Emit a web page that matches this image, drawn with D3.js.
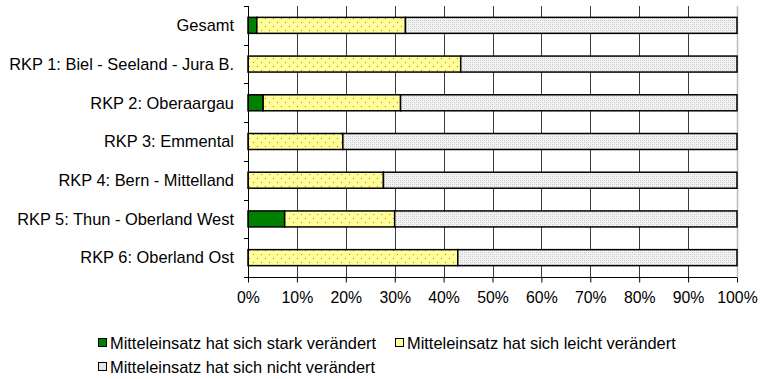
<!DOCTYPE html>
<html>
<head>
<meta charset="utf-8">
<script src="https://cdn.jsdelivr.net/npm/d3@7"></script>
<style>
  html, body { margin: 0; padding: 0; background: #ffffff; }
  svg { display: block; }
  text { font-family: "Liberation Sans", Arial, sans-serif; fill: #000; }
</style>
</head>
<body>
<svg id="chart" width="760" height="379"></svg>
<script>
// Regions (top to bottom)
const categories = [
  "Gesamt",
  "RKP 1: Biel - Seeland - Jura B.",
  "RKP 2: Oberaargau",
  "RKP 3: Emmental",
  "RKP 4: Bern - Mittelland",
  "RKP 5: Thun - Oberland West",
  "RKP 6: Oberland Ost"
];

// Share of answers in percent
const stark  = [1.8, 0.0, 3.1, 0.0, 0.0, 7.5, 0.0];
const leicht = [30.4, 43.5, 28.1, 19.4, 27.7, 22.5, 42.9];
const nicht  = [67.8, 56.5, 68.8, 80.6, 72.3, 70.0, 57.1];

const seriesNames = [
  "Mitteleinsatz hat sich stark verändert",
  "Mitteleinsatz hat sich leicht verändert",
  "Mitteleinsatz hat sich nicht verändert"
];
const xTicks = [0, 10, 20, 30, 40, 50, 60, 70, 80, 90, 100];

const svg = d3.select("#chart");
const plotLeft = 248, plotRight = 737, plotTop = 6, plotBottom = 277;

// Fill patterns
const defs = svg.append("defs");
const dots = defs.append("pattern").attr("id", "pYellow")
  .attr("patternUnits", "userSpaceOnUse").attr("width", 8).attr("height", 8);
dots.append("rect").attr("width", 8).attr("height", 8).attr("fill", "#ffff99");
dots.append("rect").attr("x", 1).attr("y", 2).attr("width", 1).attr("height", 1).attr("fill", "#d4702a");
dots.append("rect").attr("x", 5).attr("y", 6).attr("width", 1).attr("height", 1).attr("fill", "#d4702a");

const grey = defs.append("pattern").attr("id", "pGrey")
  .attr("patternUnits", "userSpaceOnUse").attr("width", 4).attr("height", 4);
grey.append("rect").attr("width", 4).attr("height", 4).attr("fill", "#f2f2f2");
grey.append("rect").attr("x", 0).attr("y", 0).attr("width", 1).attr("height", 1).attr("fill", "#c8c8c8");
grey.append("rect").attr("x", 2).attr("y", 2).attr("width", 1).attr("height", 1).attr("fill", "#c8c8c8");
grey.append("rect").attr("x", 2).attr("y", 0).attr("width", 1).attr("height", 1).attr("fill", "#dcdcdc");
grey.append("rect").attr("x", 0).attr("y", 2).attr("width", 1).attr("height", 1).attr("fill", "#dcdcdc");

const fills = ["#008000", "url(#pYellow)", "url(#pGrey)"];
const legendFills = ["#008000", "#ffff99", "#e6e6e6"];

// Scales
const x = d3.scaleLinear().domain([0, 100]).range([plotLeft, plotRight]);
const pad = 0.587;
const y = d3.scaleBand().domain(categories).range([plotTop, plotBottom])
  .paddingInner(pad).paddingOuter(pad / 2);

// Gridlines
svg.append("g").selectAll("line")
  .data(xTicks.filter(d => d > 0 && d < 100))
  .join("line")
  .attr("x1", d => Math.round(x(d)) + 0.5).attr("x2", d => Math.round(x(d)) + 0.5)
  .attr("y1", plotTop).attr("y2", plotBottom)
  .attr("stroke", "#3a3a3a").attr("stroke-width", 1);
svg.append("line")
  .attr("x1", x(100) + 0.5).attr("x2", x(100) + 0.5)
  .attr("y1", plotTop).attr("y2", plotBottom)
  .attr("stroke", "#bdbdbd").attr("stroke-width", 1.5);

// Stacked bars
const stackData = categories.map((c, i) => ({ cat: c, stark: stark[i], leicht: leicht[i], nicht: nicht[i] }));
const stacked = d3.stack().keys(["stark", "leicht", "nicht"])(stackData);

svg.append("g").selectAll("g")
  .data(stacked)
  .join("g")
  .attr("fill", (d, i) => fills[i])
  .selectAll("rect")
  .data(d => d.filter(v => v[1] - v[0] > 0))
  .join("rect")
  .attr("x", d => x(d[0]))
  .attr("width", d => x(d[1]) - x(d[0]))
  .attr("y", d => y(d.data.cat))
  .attr("height", y.bandwidth())
  .attr("stroke", "#000")
  .attr("stroke-width", 1.5);

// Category axis
const yAxis = svg.append("g");
yAxis.append("line")
  .attr("x1", plotLeft + 0.5).attr("x2", plotLeft + 0.5)
  .attr("y1", plotTop).attr("y2", plotBottom)
  .attr("stroke", "#000");
const boundaries = d3.range(categories.length + 1).map(i => plotTop + i * y.step());
yAxis.selectAll("line.tick")
  .data(boundaries)
  .join("line").attr("class", "tick")
  .attr("x1", plotLeft - 4).attr("x2", plotLeft)
  .attr("y1", d => Math.round(d) + 0.5).attr("y2", d => Math.round(d) + 0.5)
  .attr("stroke", "#000");
yAxis.selectAll("text")
  .data(categories)
  .join("text")
  .attr("x", plotLeft - 14)
  .attr("y", d => y(d) + y.bandwidth() / 2)
  .attr("dy", "0.35em")
  .attr("text-anchor", "end")
  .attr("font-size", 16.4)
  .text(d => d);

// Percent axis
const xAxis = d3.axisBottom(x)
  .tickValues(xTicks)
  .tickSize(5)
  .tickPadding(9)
  .tickFormat(d => d + "%");
const gx = svg.append("g")
  .attr("transform", `translate(0,${plotBottom + 0.5})`)
  .call(xAxis);
gx.select(".domain").attr("d", `M${plotLeft - 4},0H${plotRight}`).attr("stroke", "#000");
gx.selectAll(".tick line").attr("stroke", "#000");
gx.selectAll(".tick text")
  .attr("font-size", 15.8)
  .attr("font-family", "Liberation Sans, Arial, sans-serif")
  .attr("fill", "#000");

// Legend: two entries on the first row, one on the second
const legendPos = [[98, 343], [395, 343], [98, 367]];
const legend = svg.append("g");
seriesNames.forEach((name, i) => {
  const [lx, ly] = legendPos[i];
  legend.append("rect")
    .attr("x", lx + 0.5).attr("y", ly - 4.5)
    .attr("width", 8).attr("height", 8)
    .attr("fill", legendFills[i])
    .attr("stroke", "#000").attr("stroke-width", 1);
  legend.append("text")
    .attr("x", lx + 12).attr("y", ly)
    .attr("dy", "0.35em")
    .attr("font-size", 16.4)
    .text(name);
});
</script>
</body>
</html>
